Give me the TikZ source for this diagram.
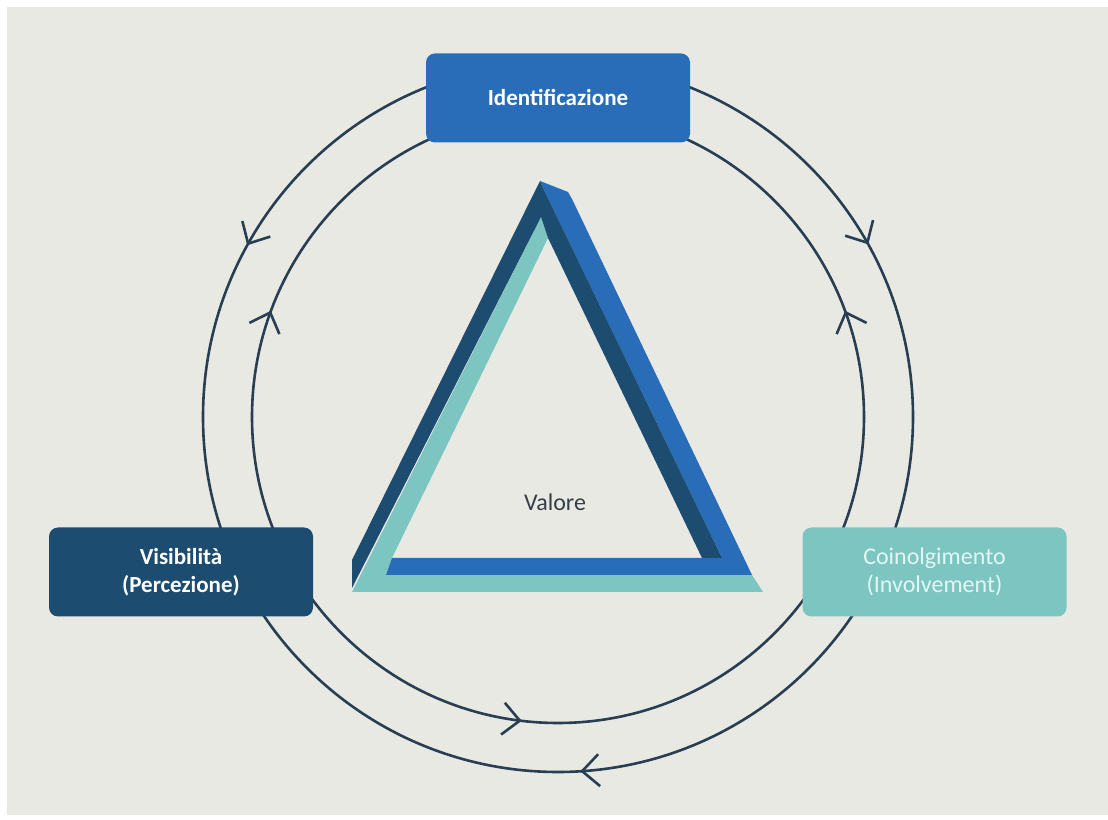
\documentclass[tikz,border=0pt]{standalone}
\usepackage{fontspec}
\setmainfont{Carlito}
\usetikzlibrary{arrows.meta,decorations.markings}
\definecolor{bggrey}{RGB}{233,233,228}
\definecolor{navy}{RGB}{28,76,112}
\definecolor{midblue}{RGB}{41,109,184}
\definecolor{teal}{RGB}{125,197,193}
\definecolor{ringcol}{RGB}{40,62,82}
\definecolor{paletext}{RGB}{226,246,246}
\definecolor{valcol}{RGB}{52,62,72}

\begin{document}
\begin{tikzpicture}[x=1pt,y=1pt]
        \tikzstyle{stage}=[rounded corners=9pt,minimum width=264pt,minimum height=89pt,inner sep=0pt,align=center,text=white,font=\bfseries\fontsize{23}{28}\selectfont]
        \tikzstyle{ring}=[draw=ringcol,line width=2.6pt,postaction={decorate}]
        \useasboundingbox (0,0) rectangle (1108,819);
        \fill[bggrey] (7,4) rectangle (1108,812);
        \coordinate (c) at (558,402);
        \draw[ring,decoration={markings,
            mark=at position 0.0808 with {\arrowreversed[ringcol]{Straight Barb[length=17pt,width=32pt]}},
            mark=at position 0.4197 with {\arrow[ringcol]{Straight Barb[length=17pt,width=32pt]}},
            mark=at position 0.7600 with {\arrowreversed[ringcol]{Straight Barb[length=17pt,width=32pt]}}}]
            (c) circle[radius=355];
        \draw[ring,decoration={markings,
            mark=at position 0.0564 with {\arrow[ringcol]{Straight Barb[length=17pt,width=32pt]}},
            mark=at position 0.4436 with {\arrowreversed[ringcol]{Straight Barb[length=17pt,width=32pt]}},
            mark=at position 0.7311 with {\arrow[ringcol]{Straight Barb[length=17pt,width=32pt]}}}]
            (c) circle[radius=306];
        \fill[teal] (541,602) -- (548,581) -- (392,261) -- (386,244) -- (752,244) -- (763,227) -- (352,227) -- cycle;
        \fill[midblue] (540,638) -- (568,627) -- (572,620) -- (752,244) -- (386,244) -- (392,261) -- (722,261) -- (543,631) -- cycle;
        \fill[navy] (540,638) -- (352,259) -- (352,231) -- (541,602) -- (548,581) -- (702,261) -- (722,261) -- (543,631) -- cycle;
        \node[text=valcol,font=\fontsize{24}{28}\selectfont] (valore) at (555,317) {Valore};
        \node[stage,fill=midblue] (ident) at (558,721) {Identificazione};
        \node[stage,fill=navy] (visib) at (181,247) {Visibilità\\(Percezione)};
        \node[stage,fill=teal,text=paletext,font=\mdseries\fontsize{24}{28}\selectfont] (coinv) at (934.5,247) {Coinolgimento\\(Involvement)};
\end{tikzpicture}
\end{document}
